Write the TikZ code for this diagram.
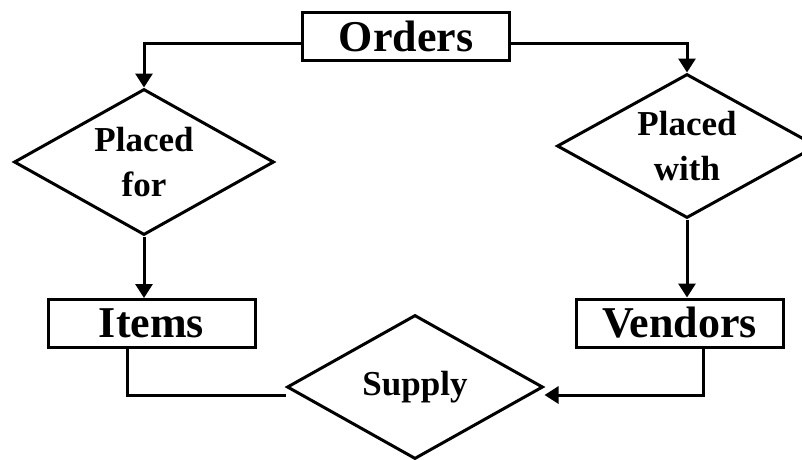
\documentclass[tikz,border=0pt]{standalone}
\usepackage{fontspec}
\setmainfont{Liberation Serif}
\usetikzlibrary{shapes.geometric, arrows.meta, positioning}

\begin{document}
\begin{tikzpicture}[x=1pt, y=-1pt, line width=3pt,
		entity/.style = {
			draw, rectangle, line width=3pt, minimum width=207pt, minimum height=48pt,
			inner sep=0pt, font=\fontsize{44}{50}\selectfont\bfseries
		},
		relation/.style = {
			draw, diamond, line width=3pt, aspect=1.8, inner sep=0pt, align=center,
			font=\fontsize{35}{45}\selectfont\bfseries
		},
		every edge/.style = {
			draw, line width=3pt, -{Triangle[length=14pt,width=17pt]}
		}]
		\clip (0,0) rectangle (802,459);
		\node (orders) [entity] at (406,36) {Orders};
		\node (placedfor) [relation, minimum width=260pt, minimum height=146pt] at (144,162) {Placed\\for};
		\node (placedwith) [relation, minimum width=260pt, minimum height=144pt] at (687,146) {Placed\\with};
		\node (items) [entity] at (151.5,323.5) {Items};
		\node (vendors) [entity] at (679.5,323) {Vendors};
		\node (supply) [relation, minimum width=256pt, minimum height=144pt] at (415,387) {Supply};
		\path
		([yshift=-7pt]orders.west) edge[to path={-| (\tikztotarget)}] (placedfor.north)
		([yshift=-7pt]orders.east) edge[to path={-| (\tikztotarget)}] (placedwith.north)
		(placedfor.south) edge (placedfor.south |- items.north)
		(placedwith.south) edge (placedwith.south |- vendors.north)
		([xshift=23.5pt]vendors.south) edge[to path={|- (\tikztotarget)}] ([yshift=-8pt]supply.east);
		\draw [line width=3pt] ([xshift=-24.5pt]items.south) |- ([yshift=-8pt]supply.west);
	\end{tikzpicture}
\end{document}
